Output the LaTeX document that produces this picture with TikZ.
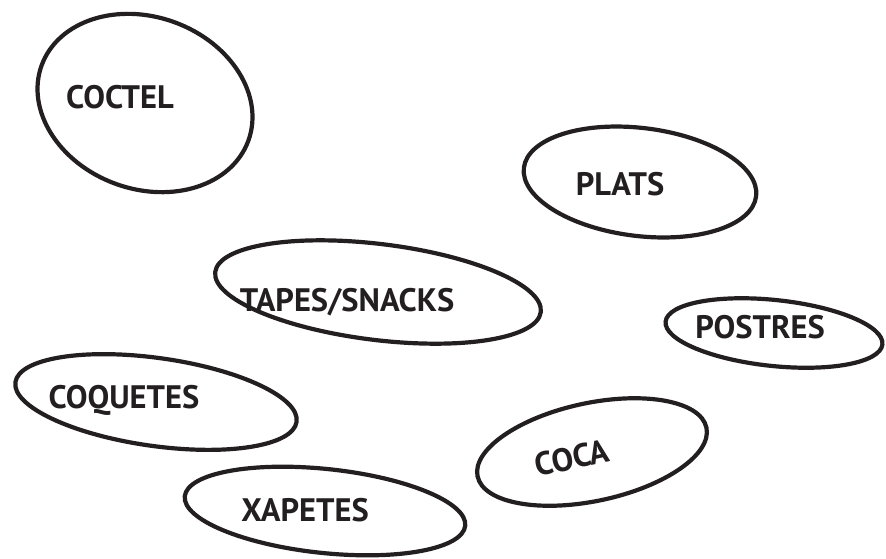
\documentclass[tikz,border=0pt]{standalone}
\usepackage{fontspec}
\setmainfont{PT Sans}
\definecolor{ink}{HTML}{231F20}
\begin{document}
\begin{tikzpicture}[x=1pt,y=-1pt,
  ring/.style={draw=ink,line width=4.2pt},
  lbl/.style={text=ink,font=\fontsize{32.5}{32.5}\selectfont\bfseries,inner sep=0pt,anchor=center}]
\useasboundingbox (0,0) rectangle (886,558);
% ellipses
\draw[ring,rotate around={-20:(145,103)}] (145,103) ellipse [x radius=110, y radius=86];
\draw[ring,rotate around={-7:(640,182)}] (640,182) ellipse [x radius=117, y radius=54];
\draw[ring,rotate around={-7:(378,292)}] (378,292) ellipse [x radius=164, y radius=48];
\draw[ring,rotate around={-6:(774,333)}] (774,333) ellipse [x radius=109, y radius=33];
\draw[ring,rotate around={-8:(156,402)}] (156,402) ellipse [x radius=142, y radius=44];
\draw[ring,rotate around={12:(592,452)}] (592,452) ellipse [x radius=117, y radius=49];
\draw[ring,rotate around={-6:(325,511)}] (325,511) ellipse [x radius=141, y radius=42];
% labels
\node[lbl] (coctel) at (120,97) {COCTEL};
\node[lbl] (plats) at (620,184) {PLATS};
\node[lbl] (tapes) at (347,302) {TAPES/SNACKS};
\node[lbl] (postres) at (760,327) {POSTRES};
\node[lbl] (coquetes) at (124,400) {COQUETES};
\node[lbl,rotate=12] (coca) at (572,458) {COCA};
\node[lbl] (xapetes) at (305,510) {XAPETES};
\end{tikzpicture}
\end{document}
